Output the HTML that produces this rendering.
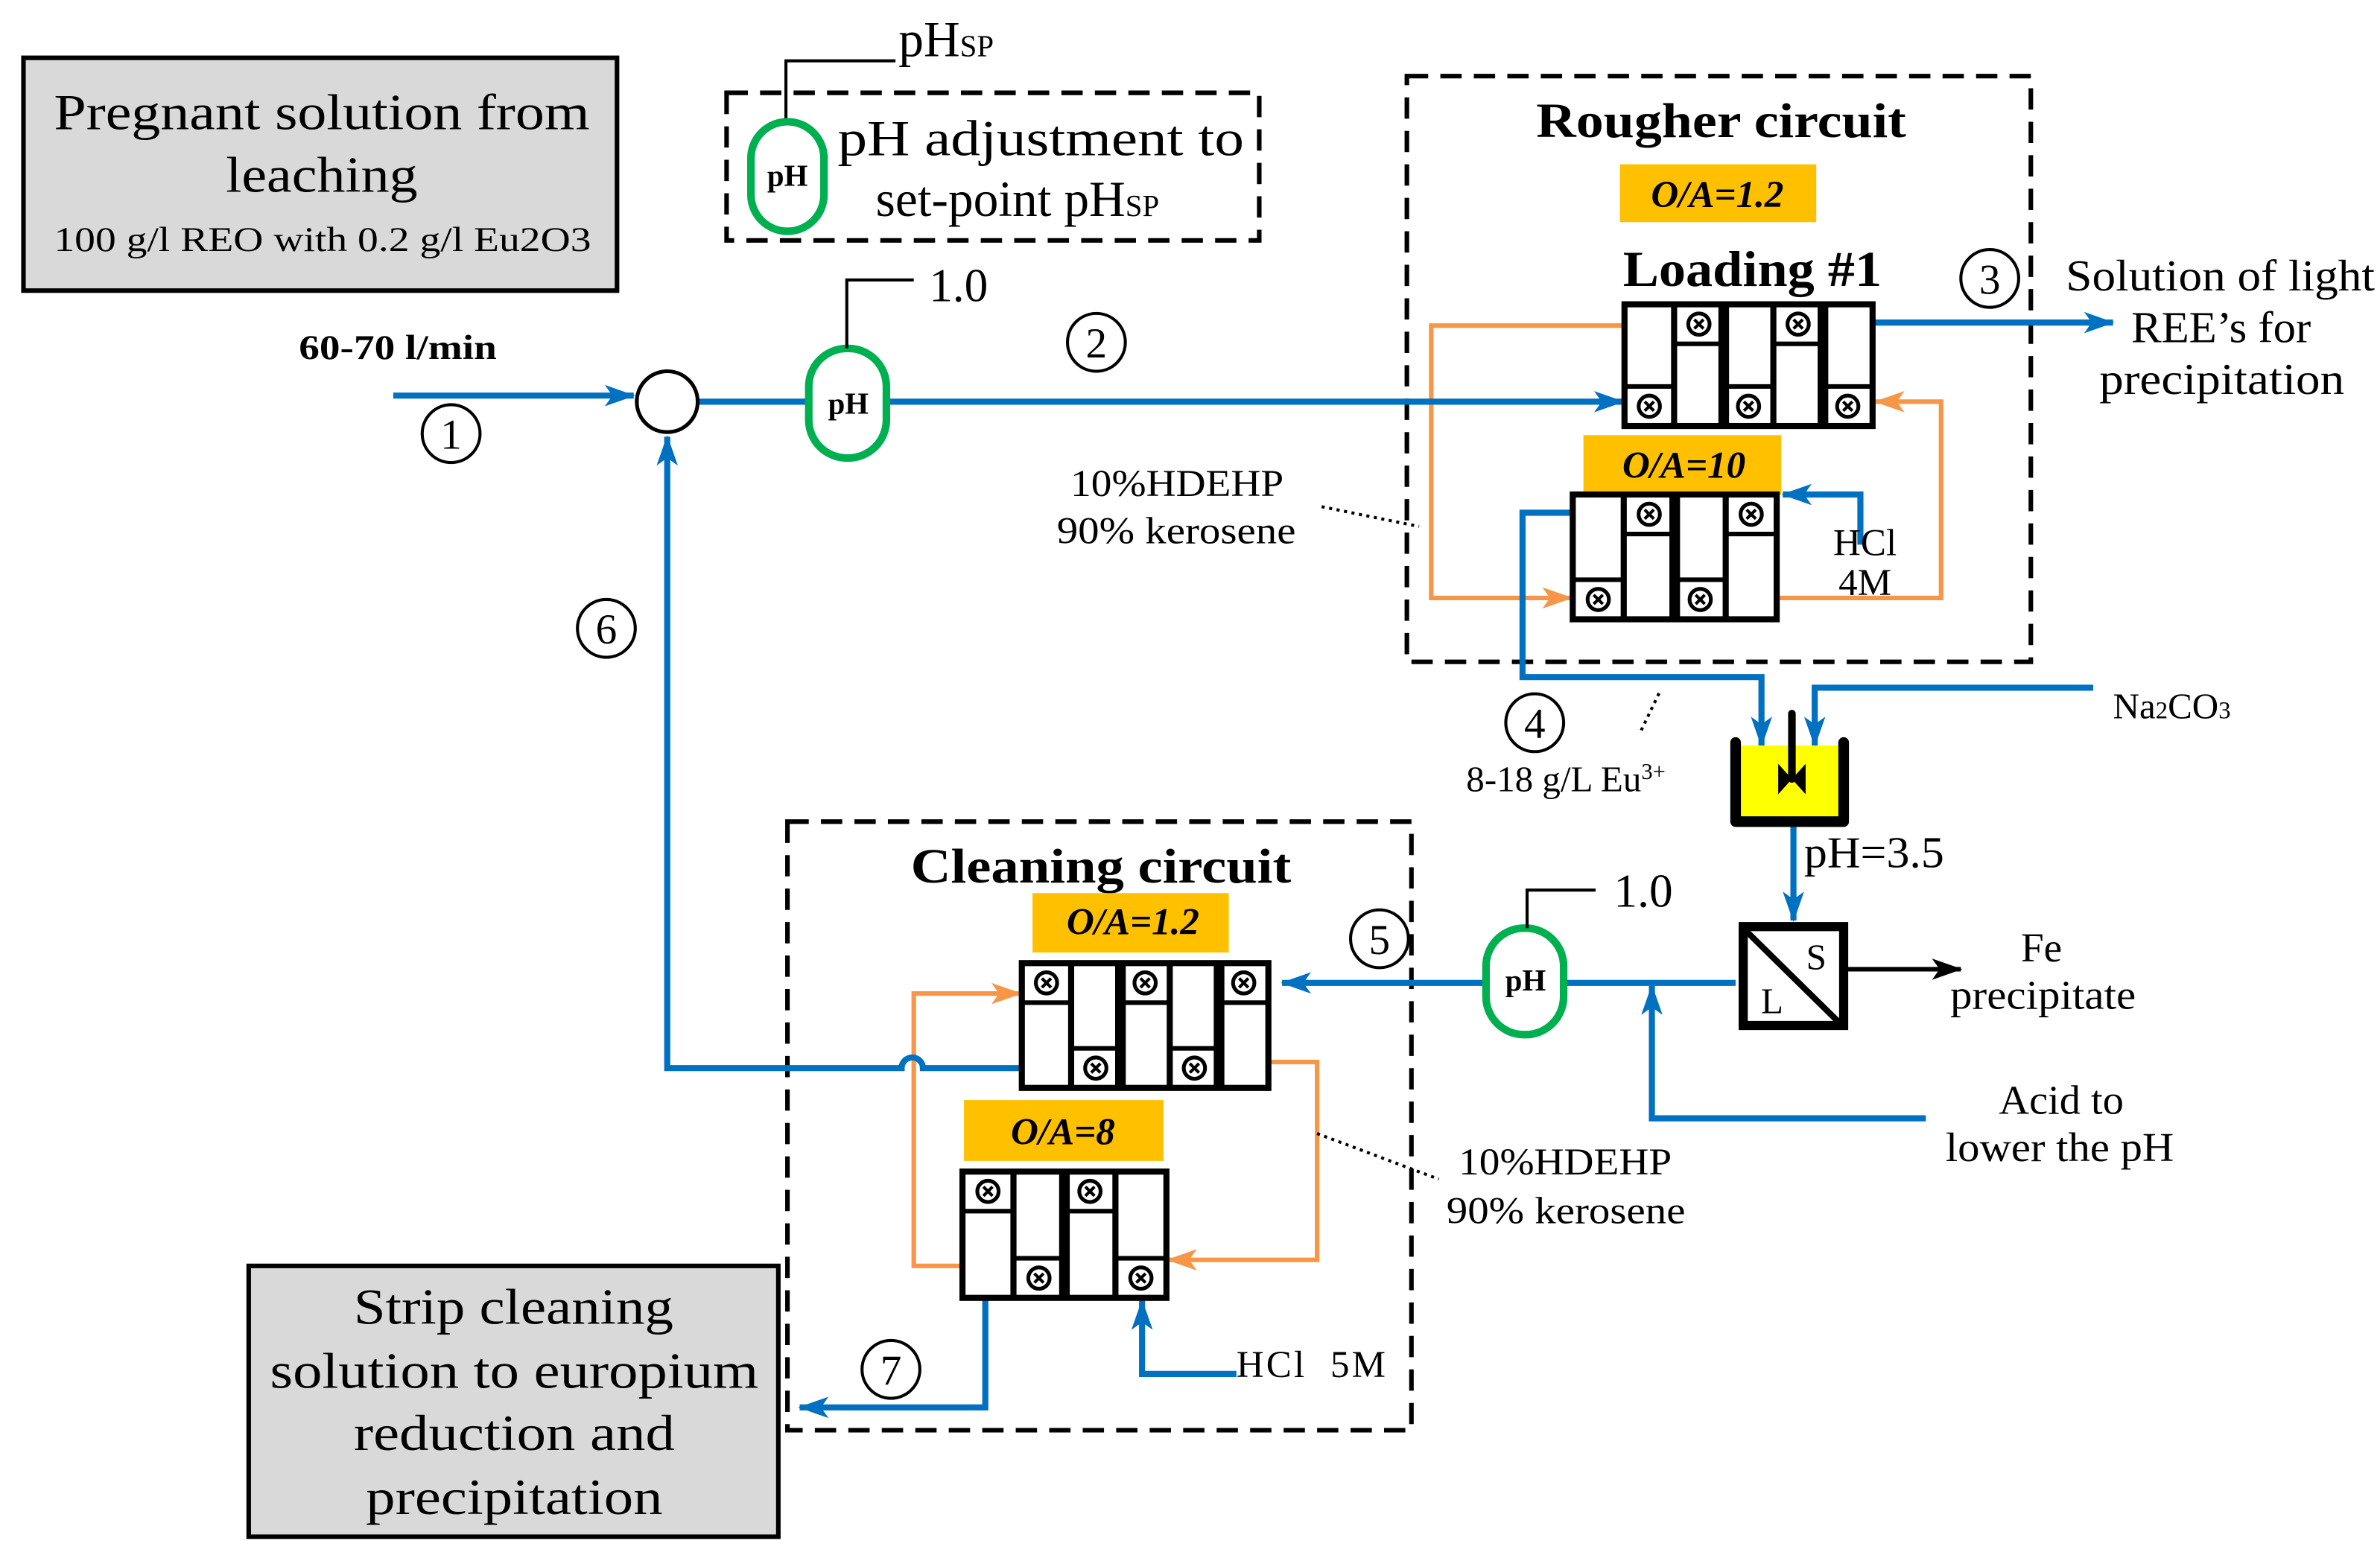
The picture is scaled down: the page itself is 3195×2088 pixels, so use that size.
<!DOCTYPE html>
<html><head><meta charset="utf-8"><style>
html,body{margin:0;padding:0;background:#fff}
svg{display:block}
text{font-family:"Liberation Serif",serif;fill:#000}
</style></head><body>
<svg id="s" width="3195" height="2088" viewBox="0 0 1563 1022" xmlns="http://www.w3.org/2000/svg">
<defs>
<marker id="ab" viewBox="0 0 20 14" refX="19" refY="7" markerWidth="20" markerHeight="14" markerUnits="userSpaceOnUse" orient="auto"><path d="M0,0 L20,7 L0,14 L5,7 Z" fill="#0070c0"/></marker>
<marker id="ao" viewBox="0 0 20 14" refX="19" refY="7" markerWidth="20" markerHeight="14" markerUnits="userSpaceOnUse" orient="auto"><path d="M0,0 L20,7 L0,14 L5,7 Z" fill="#f79646"/></marker>
<marker id="ak" viewBox="0 0 20 14" refX="19" refY="7" markerWidth="20" markerHeight="14" markerUnits="userSpaceOnUse" orient="auto"><path d="M0,0 L20,7 L0,14 L5,7 Z" fill="#000"/></marker>
</defs>

<rect x="15" y="38" width="390" height="153" fill="#d9d9d9" stroke="#000" stroke-width="3"/>
<text x="35" y="85" font-size="33" textLength="352" lengthAdjust="spacingAndGlyphs">Pregnant solution from</text>
<text x="148" y="126" font-size="33" textLength="126" lengthAdjust="spacingAndGlyphs">leaching</text>
<text x="35" y="165" font-size="23" textLength="353" lengthAdjust="spacingAndGlyphs">100 g/l REO with 0.2 g/l Eu2O3</text>

<rect x="163" y="832" width="348" height="178" fill="#d9d9d9" stroke="#000" stroke-width="3"/>
<text x="232" y="870" font-size="33" textLength="210" lengthAdjust="spacingAndGlyphs">Strip cleaning</text>
<text x="177" y="912" font-size="33" textLength="321" lengthAdjust="spacingAndGlyphs">solution to europium</text>
<text x="232" y="953" font-size="33" textLength="211" lengthAdjust="spacingAndGlyphs">reduction and</text>
<text x="240" y="995" font-size="33" textLength="195" lengthAdjust="spacingAndGlyphs">precipitation</text>

<g fill="none" stroke="#000" stroke-width="3" stroke-dasharray="14,8">
<rect x="477" y="61" width="350" height="97"/>
<rect x="924" y="50" width="410" height="385"/>
<rect x="517" y="540" width="410" height="400"/>
</g>
<text x="550" y="102" font-size="33" textLength="267" lengthAdjust="spacingAndGlyphs">pH adjustment to</text>
<text x="575" y="142" font-size="33">set-point pH<tspan font-size="20">SP</tspan></text>
<path d="M516,80 V40 H588" fill="none" stroke="#000" stroke-width="2"/>
<text x="590" y="37" font-size="33">pH<tspan font-size="20">SP</tspan></text>

<text x="1009" y="90" font-size="32" font-weight="bold" textLength="243" lengthAdjust="spacingAndGlyphs">Rougher circuit</text>
<rect x="1064" y="108" width="129" height="38" fill="#ffc000"/>
<text x="1128" y="136" font-size="25" font-style="italic" font-weight="bold" text-anchor="middle">O/A=1.2</text>
<text x="1066" y="188" font-size="33" font-weight="bold" textLength="170" lengthAdjust="spacingAndGlyphs">Loading #1</text>
<rect x="1040" y="286" width="130" height="39" fill="#ffc000"/>
<text x="1106" y="314" font-size="25" font-style="italic" font-weight="bold" text-anchor="middle">O/A=10</text>

<text x="598" y="580" font-size="32" font-weight="bold" textLength="250" lengthAdjust="spacingAndGlyphs">Cleaning circuit</text>
<rect x="678" y="587" width="129" height="39" fill="#ffc000"/>
<text x="744" y="614" font-size="25" font-style="italic" font-weight="bold" text-anchor="middle">O/A=1.2</text>
<rect x="633" y="723" width="131" height="40" fill="#ffc000"/>
<text x="698" y="752" font-size="25" font-style="italic" font-weight="bold" text-anchor="middle">O/A=8</text>

<g fill="none" stroke="#f79646" stroke-width="3">
<path d="M1067,214 H940 V393 H1032" marker-end="url(#ao)"/>
<path d="M1167,393 H1275 V264 H1232" marker-end="url(#ao)"/>
<path d="M833,698 H865 V828 H767" marker-end="url(#ao)"/>
<path d="M632,832 H600 V653 H670" marker-end="url(#ao)"/>
</g>

<g fill="none" stroke="#0070c0" stroke-width="4">
<path d="M258,260 H416" marker-end="url(#ab)"/>
<path d="M458,264 H1066" marker-end="url(#ab)"/>
<path d="M1230,212 H1388" marker-end="url(#ab)"/>
<path d="M1222,358 V325 H1171" marker-end="url(#ab)"/>
<path d="M1033,337 H1000 V445 H1157 V490" marker-end="url(#ab)"/>
<path d="M1375,452 H1192 V490" marker-end="url(#ab)"/>
<path d="M1178,543 V605" marker-end="url(#ab)"/>
<path d="M1140,646 H842" marker-end="url(#ab)"/>
<path d="M1265,735 H1085 V648" marker-end="url(#ab)"/>
<path d="M671,702 H606 A7,7 0 0 0 592,702 H438 V287" marker-end="url(#ab)"/>
<path d="M812,903 H750 V855" marker-end="url(#ab)"/>
<path d="M647,853 V925 H525" marker-end="url(#ab)"/>
</g>
<circle cx="438" cy="264" r="20" fill="#fff" stroke="#000" stroke-width="2.5"/>

<g fill="#fff" stroke="#00b050" stroke-width="5">
<rect x="493" y="80" width="48" height="72" rx="24"/>
<rect x="531" y="229" width="51" height="72" rx="25"/>
<rect x="976" y="610" width="51" height="70" rx="25"/>
</g>
<g font-size="20" font-weight="bold" text-anchor="middle">
<text x="517" y="122">pH</text><text x="557" y="272">pH</text><text x="1002" y="651">pH</text>
</g>
<path d="M556,229 V184 H600" fill="none" stroke="#000" stroke-width="2"/>
<text x="610" y="198" font-size="31">1.0</text>
<path d="M1003,610 V585 H1048" fill="none" stroke="#000" stroke-width="2"/>
<text x="1060" y="596" font-size="31">1.0</text>

<g fill="#fff" stroke="#000" stroke-width="2">
<circle cx="296" cy="285" r="19"/><circle cx="720" cy="225" r="19"/><circle cx="1307" cy="183" r="19"/>
<circle cx="1008" cy="475" r="19"/><circle cx="906" cy="617" r="19"/><circle cx="398" cy="413" r="19"/><circle cx="585" cy="900" r="19"/>
</g>
<g font-size="28" text-anchor="middle">
<text x="296" y="295">1</text><text x="720" y="235">2</text><text x="1307" y="193">3</text>
<text x="1008" y="485">4</text><text x="906" y="627">5</text><text x="398" y="423">6</text><text x="585" y="910">7</text>
</g>

<text x="196" y="236" font-size="23" font-weight="bold" textLength="130" lengthAdjust="spacingAndGlyphs">60-70 l/min</text>
<text x="1357" y="191" font-size="29" textLength="203" lengthAdjust="spacingAndGlyphs">Solution of light</text>
<text x="1400" y="225" font-size="29" textLength="118" lengthAdjust="spacingAndGlyphs">REE’s for</text>
<text x="1379" y="259" font-size="29" textLength="161" lengthAdjust="spacingAndGlyphs">precipitation</text>
<text x="703" y="326" font-size="25" textLength="140" lengthAdjust="spacingAndGlyphs">10%HDEHP</text>
<text x="694" y="357" font-size="25" textLength="157" lengthAdjust="spacingAndGlyphs">90% kerosene</text>
<path d="M868,333 L932,346" stroke="#000" stroke-width="2" stroke-dasharray="2,3"/>
<text x="1225" y="365" font-size="25" text-anchor="middle">HCl</text>
<text x="1225" y="391" font-size="25" text-anchor="middle">4M</text>
<text x="963" y="520" font-size="24">8-18 g/L Eu<tspan font-size="15" dy="-8">3+</tspan></text>
<path d="M1078,480 L1090,455" stroke="#000" stroke-width="2" stroke-dasharray="2,3"/>
<text x="1388" y="472" font-size="24">Na<tspan font-size="16">2</tspan>CO<tspan font-size="16">3</tspan></text>
<text x="1185" y="570" font-size="29" textLength="92" lengthAdjust="spacingAndGlyphs">pH=3.5</text>
<text x="1341" y="632" font-size="27" text-anchor="middle">Fe</text>
<text x="1281" y="663" font-size="27" textLength="122" lengthAdjust="spacingAndGlyphs">precipitate</text>
<text x="1313" y="732" font-size="27" textLength="82" lengthAdjust="spacingAndGlyphs">Acid to</text>
<text x="1278" y="763" font-size="27" textLength="150" lengthAdjust="spacingAndGlyphs">lower the pH</text>
<text x="958" y="772" font-size="25" textLength="140" lengthAdjust="spacingAndGlyphs">10%HDEHP</text>
<text x="950" y="804" font-size="25" textLength="157" lengthAdjust="spacingAndGlyphs">90% kerosene</text>
<path d="M865,745 L945,775" stroke="#000" stroke-width="2" stroke-dasharray="2,3"/>
<text x="812" y="905" font-size="25" textLength="98" lengthAdjust="spacing" xml:space="preserve">HCl  5M</text>

<rect x="1141" y="490" width="69" height="52" fill="#ffff00"/>
<path d="M1140,488 V540 H1211 V488" fill="none" stroke="#000" stroke-width="7" stroke-linejoin="round" stroke-linecap="round"/>
<path d="M1177,469 V512" stroke="#000" stroke-width="5" stroke-linecap="round"/>
<path d="M1168,502 L1177,512 L1168,522 Z M1186,502 L1177,512 L1186,522 Z" fill="#000"/>

<rect x="1145" y="609" width="66" height="65" fill="#fff" stroke="#000" stroke-width="6"/>
<path d="M1146,611 L1209,673" stroke="#000" stroke-width="4"/>
<text x="1193" y="637" font-size="24" text-anchor="middle">S</text>
<text x="1164" y="666" font-size="24" text-anchor="middle">L</text>
<path d="M1212,637 H1288" stroke="#000" stroke-width="3" marker-end="url(#ak)"/>

<g id="units"></g>
</svg>
<script>
var NS="http://www.w3.org/2000/svg",g=document.getElementById("units");
function el(t,a){var e=document.createElementNS(NS,t);for(var k in a)e.setAttribute(k,a[k]);g.appendChild(e);return e;}
function unit(x,y,w,h,pat){
  var n=pat.length,cw=w/n,sq=22;
  el("rect",{x:x,y:y,width:w,height:h,fill:"#fff",stroke:"#000","stroke-width":4});
  for(var i=0;i<n;i++){
    var cx=x+i*cw;
    if(i>0) el("line",{x1:cx,y1:y,x2:cx,y2:y+h,stroke:"#000","stroke-width":(i%2==0)?7:4});
    var ly=pat[i]=="t"?y+sq+4:y+h-sq-4;
    el("line",{x1:cx,y1:ly,x2:cx+cw,y2:ly,stroke:"#000","stroke-width":3});
    var cy=pat[i]=="t"?y+13:y+h-13, ccx=cx+cw/2;
    el("circle",{cx:ccx,cy:cy,r:7,fill:"#fff",stroke:"#000","stroke-width":2.5});
    el("path",{d:"M"+(ccx-3)+","+(cy-3)+"L"+(ccx+3)+","+(cy+3)+"M"+(ccx+3)+","+(cy-3)+"L"+(ccx-3)+","+(cy+3),stroke:"#000","stroke-width":2});
  }
}
unit(1067,200,163,80,"btbtb");
unit(1033,325,134,82,"btbt");
unit(671,633,162,82,"tbtbt");
unit(632,770,134,83,"tbtb");
</script>
</body></html>
